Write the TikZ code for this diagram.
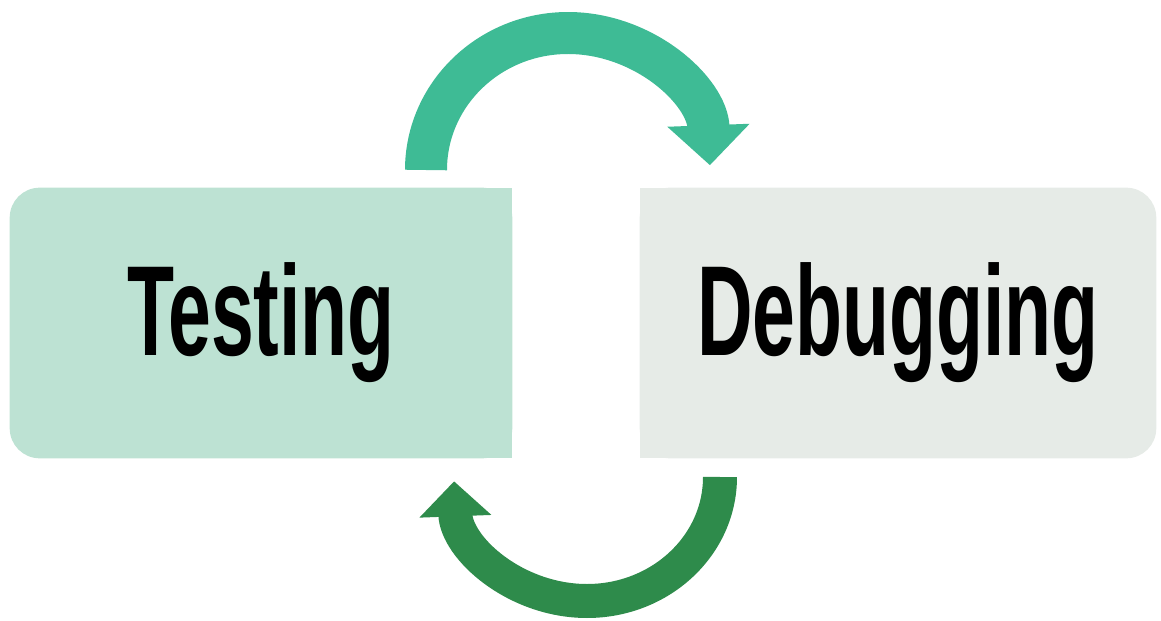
\documentclass[tikz,border=0pt]{standalone}
\usepackage{fontspec}
\newfontfamily\stagefont[FakeStretch=0.6]{Liberation Sans}
\usetikzlibrary{arrows.meta,backgrounds}
\definecolor{testfill}{RGB}{189,226,211}
\definecolor{debugfill}{RGB}{230,235,231}
\definecolor{toparrow}{RGB}{62,187,149}
\definecolor{botarrow}{RGB}{46,139,75}

\begin{document}
\begin{tikzpicture}[x=0.02cm,y=0.02cm]
	\tikzstyle{every node}=[inner sep=0pt, font=\stagefont\bfseries\fontsize{73}{80}\selectfont]
	\tikzstyle{stagebox}=[minimum width=10.04cm, minimum height=5.4cm]
	\tikzstyle{ringarrow}=[line width=0.84cm]
	\useasboundingbox (0,0) rectangle (1161,620);
	
	\node[stagebox] (test) at (261,297) {Testing};
	\node[stagebox, minimum width=10.32cm] (debug) at (898,297) {Debugging};
	
	\begin{scope}[on background layer]
		\fill[testfill, rounded corners=0.6cm] (test.south west) rectangle (test.north east);
		\fill[testfill] (test.south) rectangle (test.north east);
		\fill[debugfill, rounded corners=0.6cm] (debug.south west) rectangle (debug.north east);
		\fill[debugfill] (debug.south west) rectangle (debug.north);
	\end{scope}
	
	\coordinate (tstart) at (426,450);
	\coordinate (bstart) at (720,143);
	
	\draw[ringarrow, toparrow, -{Triangle[width=1.6cm, length=0.8cm]}] (tstart) arc[start angle=180, end angle=2, x radius=142, y radius=137];
	\draw[ringarrow, botarrow, line width=0.68cm, -{Triangle[width=1.4cm, length=0.7cm]}] (bstart) arc[start angle=0, end angle=-178, x radius=133, y radius=124];
\end{tikzpicture}
\end{document}
